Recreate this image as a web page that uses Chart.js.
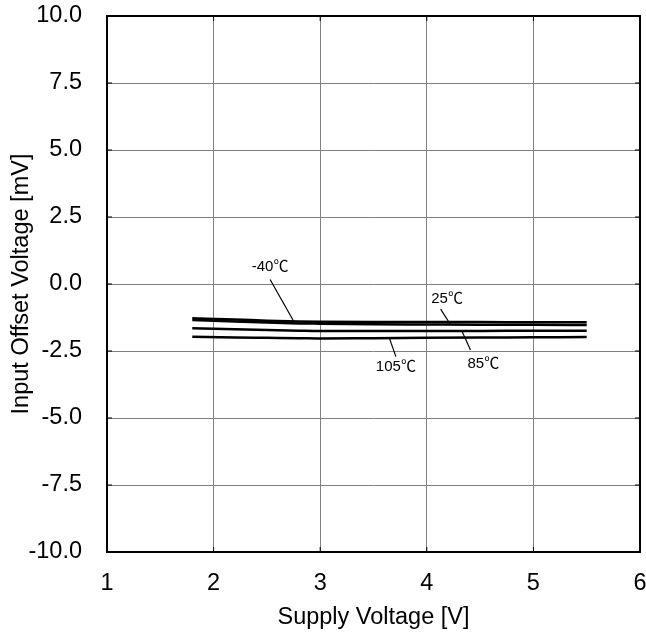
<!DOCTYPE html>
<html>
<head>
<meta charset="utf-8">
<script src="https://cdn.jsdelivr.net/npm/chart.js@4.4.1/dist/chart.umd.min.js"></script>
<style>
  html, body { margin: 0; padding: 0; background: #fff; }
  #wrap { width: 646px; height: 635px; position: relative; }
</style>
</head>
<body>
<div id="wrap"><canvas id="c" width="646" height="635"></canvas></div>
<script>
// Supply voltage [V]
const supplyVoltage = [1.8, 2.2, 2.5, 2.8, 3.0, 3.5, 4.0, 4.5, 5.0, 5.5];
// Input offset voltage [mV] per temperature
const offsetM40 = [-1.28, -1.32, -1.37, -1.40, -1.41, -1.42, -1.42, -1.42, -1.43, -1.43];
const offset25  = [-1.34, -1.40, -1.44, -1.47, -1.48, -1.50, -1.51, -1.52, -1.52, -1.53];
const offset85  = [-1.65, -1.69, -1.72, -1.74, -1.75, -1.75, -1.75, -1.75, -1.74, -1.74];
const offset105 = [-1.97, -2.00, -2.01, -2.02, -2.03, -2.02, -2.01, -2.00, -1.99, -1.98];
const seriesLabels = ['-40\u2103', '25\u2103', '85\u2103', '105\u2103'];

const toPts = ys => supplyVoltage.map((x, i) => ({x, y: ys[i]}));

// annotation labels with leader lines (data coordinates)
const annotations = [
  {text: seriesLabels[0], tx: 2.53, ty: 0.67, x1: 2.53, y1: 0.17, x2: 2.75, y2: -1.38},
  {text: seriesLabels[1], tx: 4.19, ty: -0.49, x1: 4.13, y1: -0.94, x2: 4.22, y2: -1.50},
  {text: seriesLabels[2], tx: 4.53, ty: -2.95, x1: 4.33, y1: -1.76, x2: 4.41, y2: -2.46},
  {text: seriesLabels[3], tx: 3.71, ty: -3.06, x1: 3.65, y1: -2.03, x2: 3.71, y2: -2.71}
];

const FONT = "'Liberation Sans', Arial, sans-serif";
const FS = 23.5;
const AFS = 15;

const framePlugin = {
  id: 'frame',
  afterDatasetsDraw(chart) {
    const {ctx, chartArea: a, scales: {x, y}} = chart;
    ctx.save();
    // inner tick marks
    ctx.strokeStyle = '#000';
    ctx.lineWidth = 1;
    for (let v = 2; v <= 5; v++) {
      const px = x.getPixelForValue(v);
      ctx.beginPath(); ctx.moveTo(px, a.bottom); ctx.lineTo(px, a.bottom - 5); ctx.stroke();
      ctx.beginPath(); ctx.moveTo(px, a.top); ctx.lineTo(px, a.top + 5); ctx.stroke();
    }
    for (let v = -7.5; v <= 7.5; v += 2.5) {
      const py = y.getPixelForValue(v);
      ctx.beginPath(); ctx.moveTo(a.left, py); ctx.lineTo(a.left + 5, py); ctx.stroke();
      ctx.beginPath(); ctx.moveTo(a.right, py); ctx.lineTo(a.right - 5, py); ctx.stroke();
    }
    // annotations: number part in Liberation Sans, degree sign in CJK font
    ctx.lineWidth = 1.2;
    ctx.fillStyle = '#000';
    ctx.textAlign = 'left';
    ctx.textBaseline = 'alphabetic';
    const fNum = AFS + "px 'Liberation Sans', Arial, sans-serif";
    const fDeg = AFS + "px 'Noto Sans CJK JP', sans-serif";
    annotations.forEach(an => {
      ctx.beginPath();
      ctx.moveTo(x.getPixelForValue(an.x1), y.getPixelForValue(an.y1));
      ctx.lineTo(x.getPixelForValue(an.x2), y.getPixelForValue(an.y2));
      ctx.stroke();
      const idx = an.text.indexOf('\u2103');
      const num = an.text.slice(0, idx), deg = an.text.slice(idx);
      ctx.font = fNum; const wN = ctx.measureText(num).width;
      ctx.font = fDeg; const wD = ctx.measureText(deg).width;
      const cx = x.getPixelForValue(an.tx), cy = y.getPixelForValue(an.ty) + AFS * 0.36;
      const x0 = cx - (wN + wD) / 2;
      ctx.font = fNum; ctx.fillText(num, x0, cy);
      ctx.font = fDeg; ctx.fillText(deg, x0 + wN, cy);
    });
    // frame
    ctx.lineWidth = 2;
    ctx.strokeStyle = '#000';
    ctx.strokeRect(a.left, a.top, a.right - a.left, a.bottom - a.top);
    ctx.restore();
  }
};

const mk = (label, ys) => ({
  label, data: toPts(ys),
  borderColor: '#000', borderWidth: 2.5,
  pointRadius: 0, tension: 0.4, cubicInterpolationMode: 'monotone', fill: false
});

new Chart(document.getElementById('c'), {
  type: 'line',
  data: {
    datasets: [
      mk(seriesLabels[0], offsetM40),
      mk(seriesLabels[1], offset25),
      mk(seriesLabels[2], offset85),
      mk(seriesLabels[3], offset105)
    ]
  },
  options: {
    responsive: false,
    animation: false,
    layout: {padding: {top: 16, right: 6, left: 0, bottom: 0}},
    plugins: {legend: {display: false}, tooltip: {enabled: false}},
    scales: {
      x: {
        type: 'linear', min: 1, max: 6,
        ticks: {stepSize: 1, color: '#000', font: {family: FONT, size: FS}, padding: 17, maxRotation: 0},
        grid: {color: '#808080', lineWidth: 1, drawTicks: false},
        border: {display: false},
        title: {display: true, text: 'Supply Voltage [V]', color: '#000', font: {family: FONT, size: FS}, padding: {top: 0, bottom: 3}},
        afterFit(s) { s.height = 83; s.paddingLeft = 0; s.paddingRight = 0; }
      },
      y: {
        type: 'linear', min: -10, max: 10,
        ticks: {stepSize: 2.5, color: '#000', font: {family: FONT, size: FS}, padding: 25,
                callback: v => Number(v).toFixed(1)},
        grid: {color: '#808080', lineWidth: 1, drawTicks: false},
        border: {display: false},
        title: {display: true, text: 'Input Offset Voltage [mV]', color: '#000', font: {family: FONT, size: FS}, padding: {top: 7, bottom: 0}},
        afterFit(s) { s.width = 107; s.paddingTop = 0; s.paddingBottom = 0; }
      }
    }
  },
  plugins: [framePlugin]
});
</script>
</body>
</html>
